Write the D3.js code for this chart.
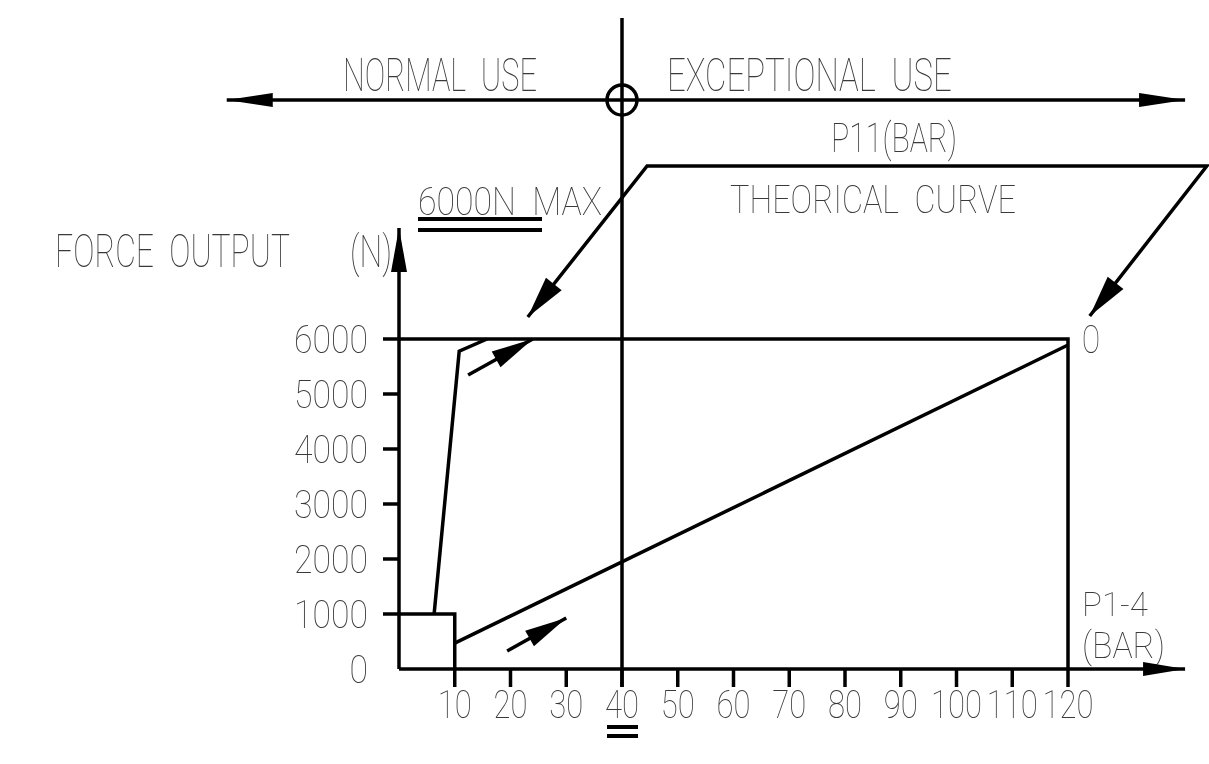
<!DOCTYPE html>
<html>
<head>
<meta charset="utf-8">
<script src="https://cdn.jsdelivr.net/npm/d3@7.9.0/dist/d3.min.js"></script>
<style>
  body { margin: 0; background: #fff; }
  svg text { font-family: "Roboto", "Liberation Sans Narrow", sans-serif; font-weight: 100; fill: #3a3a3a; white-space: pre; }
  .txt { opacity: 0.999; }
</style>
</head>
<body>
<svg width="1209" height="764"></svg>
<script>
// data (x in BAR, y in N)
const xTicks = [10, 20, 30, 40, 50, 60, 70, 80, 90, 100, 110, 120];
const yTicks = [0, 1000, 2000, 3000, 4000, 5000, 6000];
const lowBox = [[0, 1000], [10, 1000], [10, 0]];
const steepCurve = [[6.3, 1000], [10.8, 5780], [15.8, 6000]];
const theoryCurve = [[10, 470], [120, 5890]];
const maxLine = [[0, 6000], [120, 6000], [120, 0]];

// annotation geometry, also in chart units
const topArrowY = 10345;
const topArrowX = [-30.9, 141];
const dividerX = 40;
const dividerTop = 11836;
const xAxisEnd = 141;
const yAxisEnd = 8018;
const boxTop = 9145;
const boxX = [44.5, 144.9];
const leftTip = [23.1, 6400];
const rightTip = [123.9, 6418];
const smallArrows = [
  [[12.4, 5345], [24.0, 6000]],
  [[19.4, 327], [30.0, 927]]
];

const svg = d3.select('svg');
const x = d3.scaleLinear().domain([0, 120]).range([399, 1068]);
const y = d3.scaleLinear().domain([0, 6000]).range([669, 339]);
const line = d3.line().x(d => x(d[0])).y(d => y(d[1]));

const ink = svg.append('g').attr('stroke', '#000').attr('stroke-width', 3.5).attr('fill', 'none');
const txt = svg.append('g').attr('class', 'txt');

// filled arrow head pointing at tip, coming from "from"
function head(tip, from, len, hw) {
  let dx = tip[0] - from[0], dy = tip[1] - from[1];
  let d = Math.hypot(dx, dy);
  let ux = dx / d, uy = dy / d;
  let bx = tip[0] - ux * len, by = tip[1] - uy * len;
  let pts = [tip, [bx - uy * hw, by + ux * hw], [bx + uy * hw, by - ux * hw]];
  svg.append('path').attr('d', 'M' + pts.join('L') + 'Z').attr('fill', '#000');
}
const px = p => [x(p[0]), y(p[1])];

// text squeezed to a given width (CAD lettering is narrow)
function label(str, ax, ay, width, size, anchor) {
  let t = txt.append('text').attr('font-size', size).attr('text-anchor', anchor || 'start').text(str);
  let w = t.node().getComputedTextLength();
  t.attr('transform', `translate(${ax},${ay}) scale(${width / w},1)`);
}

// axes
ink.append('line').attr('x1', x(0)).attr('x2', x(xAxisEnd)).attr('y1', y(0)).attr('y2', y(0));
ink.append('line').attr('x1', x(0)).attr('x2', x(0)).attr('y1', y(0)).attr('y2', y(yAxisEnd));
head(px([xAxisEnd, 0]), px([0, 0]), 42, 7);
head(px([0, yAxisEnd]), px([0, 0]), 44, 8);

ink.selectAll('.xt').data(xTicks).join('line')
  .attr('x1', d => x(d)).attr('x2', d => x(d)).attr('y1', y(0)).attr('y2', y(0) + 18);
ink.selectAll('.yt').data(yTicks.filter(d => d > 0)).join('line')
  .attr('x1', x(0) - 16).attr('x2', x(0)).attr('y1', d => y(d)).attr('y2', d => y(d));

xTicks.forEach(d => label(String(d), x(d), y(0) + 49, String(d).length * 17, 38, 'middle'));
yTicks.forEach(d => label(String(d), x(0) - 31, y(d) + 14, String(d).length * 18.5, 38, 'end'));

// curves
ink.append('path').attr('d', line(maxLine));
ink.append('path').attr('d', line(lowBox));
ink.append('path').attr('d', line(steepCurve));
ink.append('path').attr('d', line(theoryCurve));

// divider between normal / exceptional use
ink.append('line').attr('x1', x(dividerX)).attr('x2', x(dividerX)).attr('y1', y(0) + 18).attr('y2', y(dividerTop));
ink.append('line').attr('x1', x(topArrowX[0])).attr('x2', x(topArrowX[1])).attr('y1', y(topArrowY)).attr('y2', y(topArrowY));
ink.append('circle').attr('cx', x(dividerX)).attr('cy', y(topArrowY)).attr('r', 15);
head(px([topArrowX[0], topArrowY]), px([0, topArrowY]), 46, 7);
head(px([topArrowX[1], topArrowY]), px([0, topArrowY]), 46, 7);

// theoretical curve callout
ink.append('path').attr('d', line([leftTip, [boxX[0], boxTop], [boxX[1], boxTop], rightTip]));
head(px(leftTip), px([boxX[0], boxTop]), 42, 10);
head(px(rightTip), px([boxX[1], boxTop]), 42, 10);

// small direction arrows
smallArrows.forEach(a => {
  ink.append('path').attr('d', line(a));
  head(px(a[1]), px(a[0]), 42, 9);
});

// double bars under 40 and under 6000N
const bars = svg.append('g').attr('stroke', '#000').attr('stroke-width', 4);
[727, 736].forEach(v => bars.append('line').attr('x1', x(40) - 15).attr('x2', x(40) + 16).attr('y1', v).attr('y2', v));
[219, 230].forEach(v => bars.append('line').attr('x1', 418).attr('x2', 542).attr('y1', v).attr('y2', v));

// labels: text, left x, baseline, width, size
const labels = [
  ['NORMAL  USE', 343, 91, 194, 46],
  ['EXCEPTIONAL  USE', 667, 91, 285, 46],
  ['P11(BAR)', 831, 152, 126, 41],
  ['THEORICAL  CURVE', 730, 213, 286, 39],
  ['6000N  MAX', 418, 215, 184, 38],
  ['FORCE  OUTPUT', 55, 267, 235, 46],
  ['(N)', 350, 267, 42, 44],
  ['O', 1082, 353, 18, 38],
  ['P1-4', 1082, 616, 66, 34],
  ['(BAR)', 1082, 658, 83, 36]
];
labels.forEach(d => label(d[0], d[1], d[2], d[3], d[4]));
</script>
</body>
</html>
